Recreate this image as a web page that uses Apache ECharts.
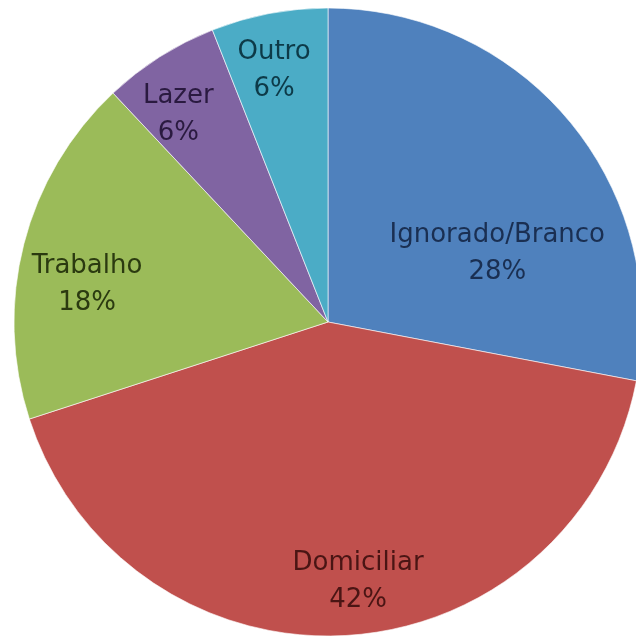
<!DOCTYPE html>
<html><head><meta charset="utf-8">
<script src="https://cdn.jsdelivr.net/npm/echarts@6/dist/echarts.min.js"></script>
<style>html,body{margin:0;padding:0;background:#fff}#c{width:636px;height:639px}</style>
</head><body><div id="c"></div>
<script>
var categories = ['Ignorado/Branco', 'Domiciliar', 'Trabalho', 'Lazer', 'Outro'];
var values = [28, 42, 18, 6, 6];
var sliceColors = ['#4F81BD', '#C0504D', '#9BBB59', '#8064A2', '#4BACC6'];
var labelColors = ['#1a2f52', '#4a1514', '#2b3a10', '#2a1a40', '#0d3a48'];
var labelOffsets = [[46, 34], [20, 100], [-86, 3], [-64, -72], [-24, -94]];

var chart = echarts.init(document.getElementById('c'));
chart.setOption({
  animation: false,
  series: [{
    type: 'pie',
    center: [328, 322],
    radius: 314,
    startAngle: 90,
    clockwise: true,
    avoidLabelOverlap: false,
    itemStyle: { borderColor: 'rgba(255,255,255,0.6)', borderWidth: 1 },
    label: {
      show: true,
      position: 'inside',
      fontFamily: 'DejaVu Sans',
      fontSize: 26,
      lineHeight: 37,
      formatter: function (p) { return p.name + '\n' + p.value + '%'; }
    },
    labelLine: { show: false },
    data: categories.map(function (n, i) {
      return {
        name: n, value: values[i],
        itemStyle: { color: sliceColors[i] },
        label: { color: labelColors[i], offset: labelOffsets[i] }
      };
    })
  }]
});
</script></body></html>
